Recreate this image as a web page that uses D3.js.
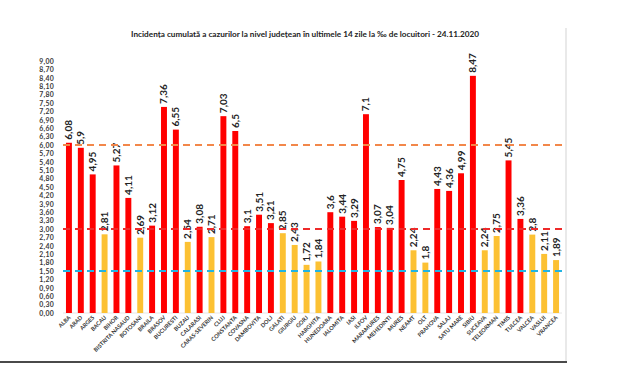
<!DOCTYPE html>
<html>
<head>
<meta charset="utf-8">
<script src="https://cdn.jsdelivr.net/npm/d3@7"></script>
<style>
  body { margin: 0; background: #fff; }
  svg { font-family: Lato, "Open Sans", sans-serif; }
</style>
</head>
<body>
<svg id="chart"></svg>
<script>
// date from the picture
const judete = ["ALBA", "ARAD", "ARGES", "BACAU", "BIHOR", "BISTRITA NASAUD", "BOTOSANI", "BRAILA",
    "BRASOV", "BUCURESTI", "BUZAU", "CALARASI", "CARAS-SEVERIN", "CLUJ", "CONSTANTA", "COVASNA",
    "DAMBOVITA", "DOLJ", "GALATI", "GIURGIU", "GORJ", "HARGHITA", "HUNEDOARA", "IALOMITA", "IASI",
    "ILFOV", "MARAMURES", "MEHEDINTI", "MURES", "NEAMT", "OLT", "PRAHOVA", "SALAJ", "SATU MARE",
    "SIBIU", "SUCEAVA", "TELEORMAN", "TIMIS", "TULCEA", "VALCEA", "VASLUI", "VRANCEA"];
const incidenta = [6.08, 5.9, 4.95, 2.81, 5.27, 4.11, 2.69, 3.12,
    7.36, 6.55, 2.54, 3.08, 2.71, 7.03, 6.5, 3.1,
    3.51, 3.21, 2.85, 2.43, 1.72, 1.84, 3.6, 3.44, 3.29,
    7.1, 3.07, 3.04, 4.75, 2.24, 1.8, 4.43, 4.36, 4.99,
    8.47, 2.24, 2.75, 5.45, 3.36, 2.8, 2.11, 1.89];
const praguri = [6, 3, 1.5];
const yTicks = d3.range(31).map(i => +(i * 0.3).toFixed(2));

const width = 620, height = 388;
const svg = d3.select("#chart").attr("width", width).attr("height", height);

const x = d3.scaleBand()
    .domain(judete)
    .range([63, 562])
    .paddingInner(0.5)
    .paddingOuter(0.25);
const y = d3.scaleLinear().domain([0, 9]).range([313, 61]);

const fmtTick = d => d.toFixed(2).replace(".", ",");
const fmtVal = d => String(d).replace(".", ",");

// titlu
svg.append("text")
    .attr("x", 305)
    .attr("y", 37)
    .attr("text-anchor", "middle")
    .style("font-size", "8.2px")
    .style("font-weight", "bold")
    .attr("fill", "#222")
    .text("Incidența cumulată a cazurilor la nivel județean în ultimele 14 zile la ‰ de locuitori - 24.11.2020");

// rama
svg.append("line")
    .attr("x1", 566).attr("x2", 566).attr("y1", 28).attr("y2", 362)
    .attr("stroke", "#e2e2e2").attr("stroke-width", 1.5);
svg.append("line")
    .attr("x1", 0).attr("x2", 567).attr("y1", 362).attr("y2", 362)
    .attr("stroke", "#4a4a4a").attr("stroke-width", 2);

// axa y
const yAxis = d3.axisLeft(y).tickValues(yTicks).tickFormat(fmtTick).tickSize(0).tickPadding(0);
const yg = svg.append("g").attr("transform", "translate(54,0)").call(yAxis);
yg.select(".domain").remove();
yg.selectAll("text")
    .style("font-size", "6.9px")
    .style("font-weight", "bold")
    .style("font-family", "Lato, sans-serif")
    .style("letter-spacing", "0.3px")
    .attr("fill", "#3a3a3a");

// linia de baza
svg.append("line")
    .attr("x1", 63).attr("x2", 562).attr("y1", y(0)).attr("y2", y(0))
    .attr("stroke", "#e6e6e6").attr("stroke-width", 1);

// bare
svg.append("g")
    .selectAll("rect")
    .data(incidenta)
    .join("rect")
    .attr("x", (d, i) => x(judete[i]))
    .attr("y", d => y(d))
    .attr("width", x.bandwidth())
    .attr("height", d => y(0) - y(d))
    .attr("fill", d => d > 3 ? "#ff0000" : "#fcc133");

// etichete valori
svg.append("g")
    .selectAll("text")
    .data(incidenta)
    .join("text")
    .attr("transform", (d, i) => `translate(${x(judete[i]) + x.bandwidth() / 2 + 3.5},${y(d) - 3}) rotate(-90)`)
    .style("font-size", "10px")
    .style("font-weight", "bold")
    .attr("fill", "#222")
    .text(d => fmtVal(d));

// praguri
const pragStyle = [
    { color: "#f2874a", dash: "7,5", w: 2 },
    { color: "#ee2a2a", dash: "7,5", w: 2 },
    { color: "#22b4e2", dash: "7,5", w: 2.2 }
];
svg.append("g")
    .selectAll("line")
    .data(praguri)
    .join("line")
    .attr("x1", 63)
    .attr("x2", 566)
    .attr("y1", d => y(d))
    .attr("y2", d => y(d))
    .attr("stroke", (d, i) => pragStyle[i].color)
    .attr("stroke-width", (d, i) => pragStyle[i].w)
    .attr("stroke-dasharray", (d, i) => pragStyle[i].dash);

// axa x
svg.append("g")
    .selectAll("text")
    .data(judete)
    .join("text")
    .attr("transform", d => `translate(${x(d) + x.bandwidth() / 2 + 2},${y(0) + 5}) rotate(-45)`)
    .attr("text-anchor", "end")
    .style("font-size", "5.6px")
    .style("font-weight", "bold")
    .attr("fill", "#333")
    .text(d => d);
</script>
</body>
</html>
